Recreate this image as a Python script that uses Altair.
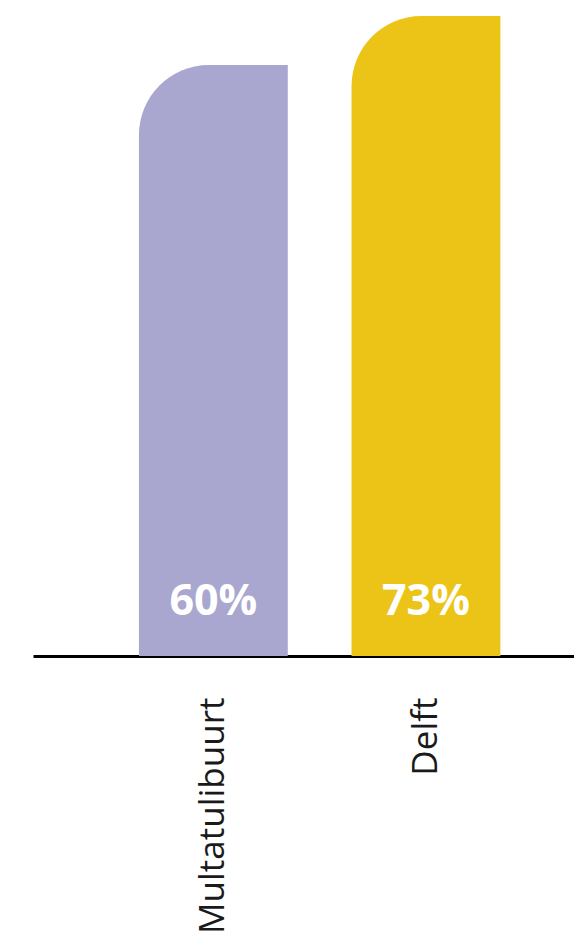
import altair as alt
import pandas as pd

categories = ["Multatulibuurt", "Delft"]
values = [60, 73]
labels = ["60%", "73%"]
colors = ["#A9A6D0", "#ECC417"]

df = pd.DataFrame({"cat": categories, "val": values, "lab": labels, "col": colors})

Y_MIN = -96.8
Y_MAX = 77.25

x = alt.X("cat:N", sort=categories, title=None,
          scale=alt.Scale(paddingInner=0.3, paddingOuter=0.4224, align=0.59),
          axis=alt.Axis(labelAngle=-90, labelFontSize=35, labelFont="Open Sans",
                        labelColor="#1a1a1a", labelPadding=41, ticks=False,
                        labelLimit=0, labelOverlap=False,
                        domainColor="#000000", domainWidth=3, labelAlign="right",
                        labelBaseline="middle", grid=False))
yscale = alt.Scale(domain=[Y_MIN, Y_MAX], zero=False, nice=False)

bars = alt.Chart(df).mark_bar(cornerRadiusTopLeft=70).encode(
    x=x,
    y=alt.Y("val:Q", scale=yscale, axis=None),
    y2=alt.datum(Y_MIN),
    color=alt.Color("col:N", scale=None),
)

text = alt.Chart(df).mark_text(
    font="Open Sans", fontWeight="bold", fontSize=43, color="white",
    baseline="alphabetic", align="center", dy=-41
).encode(
    x=x,
    y=alt.Y(datum=Y_MIN, axis=None),
    text="lab:N",
)

chart = (bars + text).properties(
    width=541, height=656,
    autosize=alt.AutoSizeParams(type="none"),
    padding={"left": 33, "top": 0, "right": 0, "bottom": 282},
    view=alt.ViewBackground(stroke=None),
).configure_view(strokeWidth=0).configure_axisY(domain=False, grid=False, labels=False, ticks=False).configure(background="white")

chart.save("out.html", embed_options={"renderer": "svg", "actions": False})
